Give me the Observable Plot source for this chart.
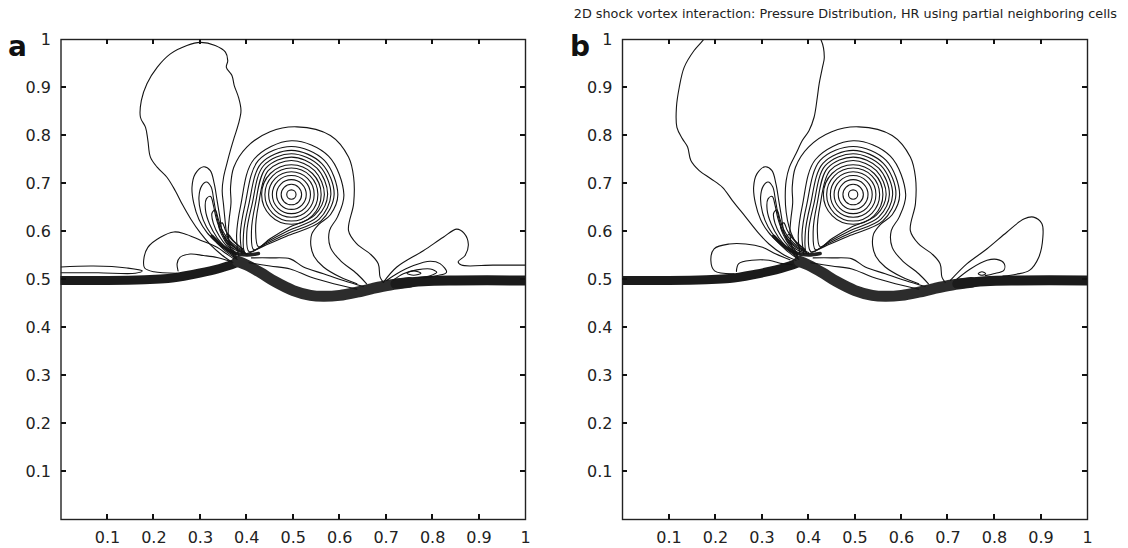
<!DOCTYPE html>
<html>
<head>
<meta charset="utf-8">
<script src="https://cdn.jsdelivr.net/npm/d3@7"></script>
<script src="https://cdn.jsdelivr.net/npm/@observablehq/plot@0.6"></script>
<style>
  html, body { margin: 0; padding: 0; background: #fff; }
  #chart { position: relative; width: 1128px; height: 548px; background: #fff; overflow: hidden; }
  #chart svg { position: absolute; top: 0; background: transparent; }
  .letter { position: absolute; font: bold 28px/28px "DejaVu Sans"; color: #111; }
  #title { position: absolute; top: 7px; right: 11px; font: 12.8px/13px "DejaVu Sans"; color: #222; white-space: nowrap; }
</style>
</head>
<body>
<div id="chart"></div>
<script>
// ---------- text & ticks ----------
const titleText = "2D shock vortex interaction: Pressure Distribution, HR using partial neighboring cells";
const panelLetters = ["a", "b"];
const xTickValues = [0.1, 0.2, 0.3, 0.4, 0.5, 0.6, 0.7, 0.8, 0.9, 1];
const xTickLabels = ["0.1", "0.2", "0.3", "0.4", "0.5", "0.6", "0.7", "0.8", "0.9", "1"];
const yTickValues = [0.1, 0.2, 0.3, 0.4, 0.5, 0.6, 0.7, 0.8, 0.9, 1];
const yTickLabels = ["0.1", "0.2", "0.3", "0.4", "0.5", "0.6", "0.7", "0.8", "0.9", "1"];

// ---------- vortex core (circular iso-pressure rings) ----------
const vortexCenter = [0.496, 0.677];
const ringRadii = [0.010, 0.022, 0.032, 0.041, 0.049, 0.057, 0.064];

// ---------- shock (dense contour band) ----------
const shockLeft = [[0,0.498],[0.1,0.498],[0.18,0.4995],[0.23,0.502],[0.286,0.511],[0.33,0.52],[0.355,0.527],[0.385,0.537]];
const shockArc = [[0.38,0.538],[0.40,0.53],[0.43,0.514],[0.46,0.496],[0.5,0.477],[0.537,0.467],[0.565,0.465],[0.6,0.467],[0.637,0.4736],[0.67,0.481],[0.7086,0.4885],[0.75,0.494]];
const shockRight = [[0.72,0.491],[0.78,0.4965],[0.85,0.498],[1,0.498]];
const crescent = [[0.325,0.59],[0.35,0.568],[0.375,0.555],[0.40,0.551],[0.425,0.554]];

// ---------- closed teardrop contours around the vortex ----------
const tear1 = [[0.496,0.748],[0.546,0.727],[0.567,0.677],[0.546,0.634],[0.49,0.608],[0.45,0.585],[0.425,0.568],[0.419,0.603],[0.425,0.655],[0.446,0.727]];
const tear2 = [[0.496,0.755],[0.551,0.732],[0.574,0.677],[0.551,0.630],[0.49,0.602],[0.445,0.579],[0.415,0.562],[0.41,0.60],[0.418,0.655],[0.441,0.732]];
const tear3 = [[0.496,0.762],[0.556,0.737],[0.581,0.677],[0.556,0.626],[0.49,0.597],[0.44,0.574],[0.405,0.558],[0.40,0.598],[0.411,0.655],[0.436,0.737]];
const tear4 = [[0.496,0.769],[0.561,0.742],[0.588,0.677],[0.56,0.622],[0.49,0.592],[0.435,0.569],[0.397,0.555],[0.393,0.596],[0.404,0.655],[0.431,0.742]];

// ---------- open contours around the vortex ending in the shock ----------
const ring5 = [[0.39,0.552],[0.386,0.594],[0.396,0.655],[0.425,0.748],[0.496,0.777],[0.567,0.748],[0.596,0.677],[0.58,0.635],[0.555,0.615],[0.54,0.595],[0.538,0.57],[0.545,0.548],[0.565,0.526],[0.601,0.505],[0.637,0.491]];
const ring6 = [[0.382,0.549],[0.378,0.592],[0.387,0.655],[0.415,0.75],[0.496,0.789],[0.576,0.757],[0.609,0.677],[0.595,0.63],[0.578,0.602],[0.58,0.567],[0.601,0.54],[0.637,0.512],[0.658,0.491]];
const ringOuter = [[0.372,0.547],[0.365,0.565],[0.36,0.595],[0.362,0.625],[0.366,0.66],[0.365,0.692],[0.372,0.734],[0.40,0.776],[0.45,0.808],[0.508,0.818],[0.58,0.80],[0.619,0.755],[0.63,0.713],[0.63,0.658],[0.619,0.602],[0.637,0.574],[0.666,0.553],[0.683,0.533],[0.687,0.505],[0.694,0.494]];
const lowLine1 = [[0.41,0.545],[0.45,0.545],[0.4935,0.543],[0.522,0.526],[0.565,0.512],[0.608,0.498],[0.651,0.4855]];
const lowLine2 = [[0.405,0.535],[0.45,0.528],[0.4935,0.522],[0.537,0.505],[0.587,0.491],[0.637,0.48]];

// ---------- tongues left of the vortex ----------
const tongue1 = [[0.379,0.542],[0.357,0.557],[0.336,0.576],[0.314,0.598],[0.297,0.625],[0.286,0.658],[0.282,0.692],[0.289,0.72],[0.307,0.735],[0.3215,0.727],[0.33,0.699],[0.336,0.665],[0.342,0.63],[0.347,0.60],[0.356,0.578],[0.375,0.562],[0.40,0.553]];
const tongue2 = [[0.378,0.545],[0.355,0.562],[0.333,0.583],[0.313,0.61],[0.301,0.64],[0.297,0.672],[0.303,0.695],[0.313,0.703],[0.323,0.693],[0.329,0.665],[0.335,0.633],[0.343,0.605],[0.356,0.582],[0.374,0.566],[0.396,0.556]];
const tongue3 = [[0.377,0.548],[0.356,0.565],[0.336,0.587],[0.32,0.615],[0.311,0.645],[0.313,0.668],[0.322,0.673],[0.328,0.655],[0.334,0.628],[0.343,0.603],[0.357,0.583],[0.375,0.568],[0.394,0.558]];
const tongue4 = [[0.377,0.55],[0.358,0.568],[0.341,0.59],[0.328,0.617],[0.325,0.638],[0.332,0.645],[0.338,0.628],[0.346,0.605],[0.359,0.585],[0.376,0.57],[0.393,0.56]];
const tongue5 = [[0.377,0.552],[0.36,0.57],[0.346,0.593],[0.34,0.612],[0.347,0.618],[0.354,0.603],[0.364,0.587],[0.378,0.573],[0.392,0.562]];
const tongue6 = [[0.377,0.554],[0.363,0.572],[0.353,0.59],[0.36,0.594],[0.37,0.582],[0.381,0.572],[0.391,0.564]];

// ---------- panel a specific ----------
const balloonA = [[0.365,0.538],[0.345,0.552],[0.322,0.572],[0.30,0.597],[0.28,0.625],[0.262,0.655],[0.246,0.685],[0.228,0.713],[0.207,0.734],[0.1925,0.755],[0.187,0.79],[0.182,0.817],[0.171,0.838],[0.173,0.873],[0.185,0.908],[0.207,0.942],[0.2355,0.97],[0.271,0.9875],[0.30,0.994],[0.332,0.9875],[0.354,0.9736],[0.359,0.956],[0.356,0.942],[0.368,0.925],[0.373,0.904],[0.382,0.88],[0.3875,0.852],[0.382,0.824],[0.373,0.796],[0.365,0.77],[0.357,0.741],[0.35,0.713],[0.347,0.685],[0.35,0.655],[0.353,0.625],[0.356,0.60],[0.362,0.58],[0.378,0.563],[0.40,0.553]];
const earA1 = [[0.25,0.513],[0.2,0.516],[0.18,0.524],[0.178,0.54],[0.187,0.567],[0.214,0.588],[0.243,0.599],[0.264,0.596],[0.30,0.582],[0.336,0.567],[0.357,0.553],[0.372,0.543]];
const earA2 = [[0.252,0.518],[0.25,0.533],[0.256,0.546],[0.278,0.553],[0.307,0.55],[0.336,0.546],[0.357,0.54],[0.37,0.536]];
const leftLobeA = [[0,0.526],[0.07,0.528],[0.142,0.524],[0.175,0.518],[0.16,0.513],[0.08,0.514],[0,0.514]];
const rightLobeA1 = [[0.694,0.494],[0.723,0.526],[0.78,0.56],[0.823,0.588],[0.852,0.605],[0.868,0.596],[0.877,0.573],[0.87,0.55],[0.855,0.537],[0.862,0.53],[0.93,0.53],[1,0.53]];
const rightLobeA2 = [[0.701,0.498],[0.723,0.512],[0.759,0.529],[0.795,0.538],[0.816,0.533],[0.83,0.515],[0.809,0.508],[0.78,0.503]];
const rightLobeA3 = [[0.716,0.499],[0.737,0.512],[0.766,0.52],[0.795,0.522],[0.809,0.515],[0.795,0.508],[0.77,0.504]];
const tinyLoopA = [[0.745,0.513],[0.759,0.518],[0.775,0.513],[0.759,0.509]];

// ---------- panel b specific ----------
const balloonBLeft = [[0.373,0.54],[0.344,0.553],[0.315,0.574],[0.294,0.595],[0.265,0.63],[0.236,0.665],[0.215,0.692],[0.19,0.71],[0.165,0.727],[0.147,0.748],[0.14,0.776],[0.129,0.793],[0.117,0.817],[0.116,0.859],[0.122,0.9],[0.1326,0.942],[0.154,0.977],[0.172,0.997],[0.19,1.02]];
const balloonBRight = [[0.41,1.02],[0.427,0.999],[0.434,0.963],[0.43,0.942],[0.423,0.908],[0.419,0.88],[0.412,0.838],[0.401,0.81],[0.387,0.79],[0.373,0.762],[0.359,0.734],[0.352,0.706],[0.35,0.671],[0.352,0.64],[0.358,0.61],[0.368,0.585],[0.382,0.566],[0.40,0.556]];
const earB1 = [[0.24,0.512],[0.198,0.518],[0.19,0.54],[0.197,0.564],[0.23,0.574],[0.265,0.574],[0.301,0.567],[0.33,0.553],[0.36,0.541]];
const earB2 = [[0.245,0.517],[0.25,0.533],[0.278,0.54],[0.315,0.54],[0.344,0.533],[0.365,0.531]];
const rightLobeB1 = [[0.705,0.498],[0.741,0.533],[0.784,0.564],[0.827,0.599],[0.863,0.626],[0.884,0.63],[0.902,0.616],[0.904,0.588],[0.895,0.546],[0.875,0.519],[0.847,0.511],[0.818,0.507]];
const rightLobeB2 = [[0.72,0.5015],[0.748,0.522],[0.784,0.54],[0.805,0.542],[0.821,0.533],[0.82,0.519],[0.798,0.512],[0.78,0.508]];
const tinyLoopB = [[0.765,0.512],[0.773,0.516],[0.781,0.512],[0.773,0.509]];

// ---------- helpers ----------
function toRows(named) {
  return named.flatMap(([id, pts]) => pts.map(([x, y]) => ({id, x, y})));
}

const sharedOpen = [["ring5", ring5], ["ring6", ring6], ["ringOuter", ringOuter], ["low1", lowLine1], ["low2", lowLine2],
  ["t1", tongue1], ["t2", tongue2], ["t3", tongue3], ["t4", tongue4], ["t5", tongue5], ["t6", tongue6]];
const sharedClosed = [["tear1", tear1], ["tear2", tear2], ["tear3", tear3], ["tear4", tear4]];

const panels = [
  {
    letter: panelLetters[0], left: 0, marginLeft: 60.5, marginRight: 39,
    open: [["balloonA", balloonA], ["earA1", earA1], ["earA2", earA2], ["leftLobeA", leftLobeA],
           ["rA1", rightLobeA1], ["rA2", rightLobeA2], ["rA3", rightLobeA3]],
    closed: [["tinyA", tinyLoopA]]
  },
  {
    letter: panelLetters[1], left: 564, marginLeft: 58, marginRight: 41,
    open: [["balloonBL", balloonBLeft], ["balloonBR", balloonBRight], ["earB1", earB1], ["earB2", earB2],
           ["rB1", rightLobeB1], ["rB2", rightLobeB2]],
    closed: [["tinyB", tinyLoopB]]
  }
];

const chart = document.getElementById("chart");
const lineStyle = {x: "x", y: "y", z: "id", stroke: "#141414", strokeWidth: 1.1, clip: true};
const innerX = xTickValues.slice(0, -1);
const innerY = yTickValues.slice(0, -1);
const TICK = 5; // inward tick length in pixels

for (const p of panels) {
  const plot = Plot.plot({
    width: 564, height: 548,
    marginLeft: p.marginLeft, marginRight: p.marginRight, marginTop: 39, marginBottom: 29,
    x: {domain: [0, 1], label: null},
    y: {domain: [0, 1], label: null},
    r: {type: "linear", domain: [0, 1], range: [0, 465]},
    style: {fontFamily: "DejaVu Sans", fontSize: "16px", color: "#222", background: "transparent", overflow: "visible"},
    marks: [
      Plot.line(toRows([["sl", shockLeft]]), {x: "x", y: "y", z: "id", stroke: "#1b1b1b", strokeWidth: 9, curve: "catmull-rom", clip: true}),
      Plot.line(toRows([["sa", shockArc]]), {x: "x", y: "y", z: "id", stroke: "#2c2c2c", strokeWidth: 11, curve: "catmull-rom", clip: true}),
      Plot.line(toRows([["sr", shockRight]]), {x: "x", y: "y", z: "id", stroke: "#1b1b1b", strokeWidth: 10, curve: "catmull-rom", clip: true}),
      Plot.line(toRows([["cr", crescent]]), {x: "x", y: "y", z: "id", stroke: "#222", strokeWidth: 3.5, curve: "catmull-rom", clip: true}),
      Plot.line(toRows(sharedOpen.concat(p.open)), {...lineStyle, curve: "catmull-rom"}),
      Plot.line(toRows(sharedClosed.concat(p.closed)), {...lineStyle, curve: "catmull-rom-closed"}),
      Plot.dot(ringRadii, {x: () => vortexCenter[0], y: () => vortexCenter[1], r: d => d, fill: "none", stroke: "#141414", strokeWidth: 1.1}),
      Plot.frame({stroke: "#222", strokeWidth: 1.4}),
      Plot.axisX(xTickValues, {anchor: "bottom", tickSize: 0, tickPadding: 12, label: null, tickFormat: d => xTickLabels[xTickValues.indexOf(d)]}),
      Plot.axisY(yTickValues, {anchor: "left", tickSize: 0, tickPadding: 10, label: null, tickFormat: d => yTickLabels[yTickValues.indexOf(d)]})
    ]
  });
  // inward MATLAB-style ticks on all four sides, positioned with the plot's own scales
  const sx = plot.scale("x"), sy = plot.scale("y");
  const [x0, x1] = sx.range, [y0, y1] = sy.range; // y0 = bottom, y1 = top
  const g = d3.select(plot).append("g").attr("stroke", "#111").attr("stroke-width", 1.3).attr("shape-rendering", "crispEdges");
  for (const v of innerX) {
    const px = Math.round(sx.apply(v));
    g.append("line").attr("x1", px).attr("x2", px).attr("y1", y0).attr("y2", y0 - TICK);
    g.append("line").attr("x1", px).attr("x2", px).attr("y1", y1).attr("y2", y1 + TICK);
  }
  for (const v of innerY) {
    const py = Math.round(sy.apply(v));
    g.append("line").attr("y1", py).attr("y2", py).attr("x1", x0).attr("x2", x0 + TICK);
    g.append("line").attr("y1", py).attr("y2", py).attr("x1", x1).attr("x2", x1 - TICK);
  }
  plot.style.left = p.left + "px";
  chart.appendChild(plot);
  const lt = document.createElement("div");
  lt.className = "letter";
  lt.textContent = p.letter;
  lt.style.left = (p.left + (p.left ? 6 : 8)) + "px";
  lt.style.top = "33px";
  chart.appendChild(lt);
}

const title = document.createElement("div");
title.id = "title";
title.textContent = titleText;
chart.appendChild(title);
</script>
</body>
</html>
